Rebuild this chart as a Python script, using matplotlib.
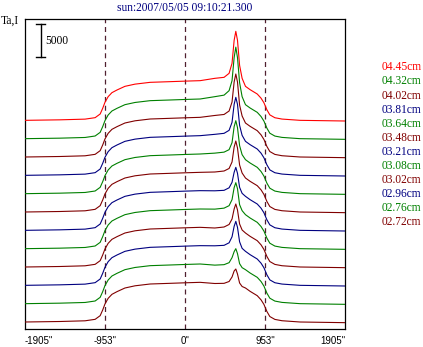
import matplotlib
matplotlib.use("Agg")
import matplotlib.pyplot as plt

plt.rcParams["font.family"] = ["Liberation Serif", "DejaVu Serif"]

# positions en secondes d'arc (axe x)
X_LEFT = [-1905, -1490, -1190, -1070, -1010, -980, -953, -915, -870, -810,
          -715, -595, -415, -180, 0, 180]
X_CORE = [355, 465, 525, 560, 585, 605, 625, 650, 680]
X_RIGHT = [720, 775, 860, 905, 940, 975, 1010, 1070, 1155, 1370, 1905]

# profil commun des bords du disque (Ta)
TA_LEFT = [0, 75, 180, 400, 950, 1800, 2700, 3550, 4150, 4550,
           5100, 5430, 5700, 5800, 5880, 5950]
TA_RIGHT = [5100, 4600, 3950, 3330, 2630, 1580, 820, 390, 190, 0, -100]

# pic central pour chaque longueur d'onde (de haut en bas)
CORE_0445 = [6300, 6450, 7050, 8550, 12000, 13350, 12000, 8250, 6300]
CORE_0432 = [6300, 6530, 7200, 8700, 12150, 13730, 12150, 8400, 6300]
CORE_0402 = [6230, 6380, 6900, 8250, 11250, 12450, 11250, 7800, 6150]
CORE_0381 = [6150, 6300, 6750, 7950, 10650, 11700, 10650, 7500, 6000]
CORE_0364 = [6080, 6230, 6600, 7650, 10050, 10950, 9900, 7200, 5850]
CORE_0348 = [6000, 6150, 6530, 7500, 9750, 10650, 9600, 7050, 5850]
CORE_0321 = [5930, 6000, 6380, 7200, 8700, 9450, 8550, 6450, 5550]
CORE_0308 = [5930, 6080, 6450, 7350, 9150, 9900, 9000, 6600, 5700]
CORE_0302 = [5850, 6000, 6380, 7200, 8700, 9450, 8550, 6450, 5550]
CORE_0296 = [5930, 6000, 6380, 7280, 8850, 9600, 8700, 6530, 5550]
CORE_0276 = [5780, 5850, 6150, 6900, 7800, 8250, 7500, 6000, 5400]
CORE_0272 = [5775, 5800, 6075, 6750, 7650, 7950, 7200, 5850, 5325]

LABELS = ["04.45cm", "04.32cm", "04.02cm", "03.81cm", "03.64cm", "03.48cm",
          "03.21cm", "03.08cm", "03.02cm", "02.96cm", "02.76cm", "02.72cm"]
CORES = [CORE_0445, CORE_0432, CORE_0402, CORE_0381, CORE_0364, CORE_0348,
         CORE_0321, CORE_0308, CORE_0302, CORE_0296, CORE_0276, CORE_0272]

XTICKS = [-1905, -953, 0, 953, 1905]
XTICK_LABELS = ['-1905"', '-953"', '0"', '953"', '1905"']

RED = "#ff0000"
GREEN = "#008000"
DARKRED = "#800000"
NAVY = "#000080"
COLORS = [RED, GREEN, DARKRED, NAVY, GREEN, DARKRED, NAVY, GREEN, DARKRED,
          NAVY, GREEN, DARKRED]
DASH = "#502030"
STEP = 2750  # decalage vertical entre courbes
FS = 8.3

W, H = 423, 347
fig = plt.figure(figsize=(W / 100, H / 100), dpi=100)
fig.patch.set_facecolor("white")
ax = fig.add_axes([25 / W, 18 / H, 320 / W, 310 / H])
ax.set_xlim(-1905, 1905)
ax.set_ylim(-1050, 45450)

x_all = X_LEFT + X_CORE + X_RIGHT
n = len(CORES)
for i, (core, col) in enumerate(zip(CORES, COLORS)):
    off = (n - 1 - i) * STEP
    ta = TA_LEFT + core + TA_RIGHT
    ax.plot(x_all, [v + off for v in ta], color=col, lw=0.8, zorder=3)

for xv in [-953, 0, 953]:
    ax.axvline(xv, color=DASH, lw=0.9, ls=(0, (4, 3)), zorder=2)

# barre d'echelle 5000
ax.plot([-1720, -1720], [39700, 44700], color="black", lw=1)
ax.plot([-1775, -1665], [39700, 39700], color="black", lw=1)
ax.plot([-1775, -1665], [44700, 44700], color="black", lw=1)
ax.text(-1660, 42200, "5000", fontsize=FS, va="center", ha="left")

ax.set_yticks([])
ax.set_xticks(XTICKS)
ax.set_xticklabels(XTICK_LABELS, fontsize=7, family="Liberation Sans")
ax.tick_params(axis="x", length=0, pad=5)
tl = ax.get_xticklabels()
tl[0].set_ha("left")
tl[-1].set_ha("right")
for s in ax.spines.values():
    s.set_linewidth(0.9)

fig.text(184.5 / W, 1 - 8 / H, "sun:2007/05/05 09:10:21.300", fontsize=FS,
         color=NAVY, ha="center", va="center")
fig.text(1 / W, 1 - 21 / H, "Ta,I", fontsize=FS, ha="left", va="center")

for i, (lab, col) in enumerate(zip(LABELS, COLORS)):
    fig.text(382 / W, 1 - (67.3 + i * 14.1) / H, lab, fontsize=FS,
             color=col, ha="left", va="center")

fig.savefig("out.png", dpi=100, facecolor="white")
